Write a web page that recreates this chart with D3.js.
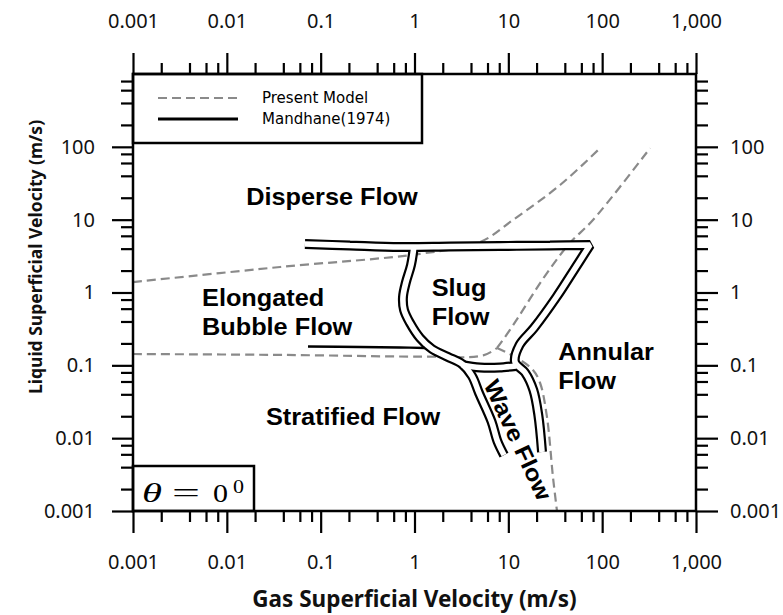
<!DOCTYPE html>
<html>
<head>
<meta charset="utf-8">
<script src="https://cdn.jsdelivr.net/npm/d3@7"></script>
<style>
  html, body { margin: 0; padding: 0; background: #fff; }
  svg { display: block; }
</style>
</head>
<body>
<svg id="chart" width="783" height="615"></svg>
<script>
// ---- axis ticks -------------------------------------------------------
const xMajor = [0.001, 0.01, 0.1, 1, 10, 100, 1000];
const xTickLabels = ["0.001", "0.01", "0.1", "1", "10", "100", "1,000"];
const yMajor = [0.001, 0.01, 0.1, 1, 10, 100];
const yTickLabels = ["0.001", "0.01", "0.1", "1", "10", "100"];
const minorSteps = [2, 4, 6, 8];
const decades = [0.001, 0.01, 0.1, 1, 10, 100];

// ---- present model transitions (gas m/s, liquid m/s) -------------------
const modelDispersed = [[0.001, 1.39], [0.037, 2.24], [1.15, 3.4], [5.0, 4.94], [11.2, 9.9], [35.6, 29.9], [95, 96]];
const modelAnnular = [[7.57, 0.173], [10.4, 0.306], [25.8, 1.85], [45.4, 4.79], [79.8, 9.9], [324, 96]];
const modelStratified = [[0.001, 0.143], [0.04, 0.139], [1.15, 0.132], [5.4, 0.137], [7.57, 0.173]];
const modelWavyAnnular = [[7.57, 0.173], [12.4, 0.126], [18.3, 0.0863], [21.8, 0.0572], [25.8, 0.0196], [29.9, 0.00293], [33.0, 0.001]];

// ---- Mandhane (1974) transitions --------------------------------------
const mandhaneDispersed = [[0.068, 4.64], [0.2055, 4.42], [0.701, 4.215], [2.39, 4.28], [8.15, 4.35], [27.8, 4.42], [74.2, 4.49]];
const mandhaneAnnular = [[74.2, 4.49], [50.1, 2.04], [32.6, 0.868], [18.78, 0.326], [13.16, 0.19], [11.78, 0.111],
                         [15.06, 0.0797], [18.46, 0.0459], [20.87, 0.0208], [22.86, 0.00646]];
const mandhaneSlugLeft = [[0.988, 4.35], [0.918, 2.386], [0.812, 1.394], [0.754, 0.868], [0.7735, 0.575], [0.896, 0.3814],
                          [1.145, 0.2374], [1.537, 0.1676], [2.276, 0.1302], [3.21, 0.1043], [4.10, 0.0714],
                          [4.87, 0.0417], [6.62, 0.01694], [7.67, 0.0090], [9.0, 0.00587]];
const mandhaneSlugWave = [[3.21, 0.1011], [4.99, 0.0934], [8.15, 0.0934], [12.07, 0.0979]];
const mandhaneBubbleStratified = [[0.0733, 0.1814], [0.2626, 0.1785], [0.701, 0.1758], [1.294, 0.173]];

// ---- region names, anchored in data coordinates ------------------------
const regionNames = [
  { lines: ["Disperse Flow"], gas: 0.132, liquid: 15.9, anchor: "middle", angle: 0 },
  { lines: ["Elongated", "Bubble Flow"], gas: 0.00544, liquid: 0.653, anchor: "start", angle: 0 },
  { lines: ["Slug", "Flow"], gas: 1.526, liquid: 0.896, anchor: "start", angle: 0 },
  { lines: ["Annular", "Flow"], gas: 34.1, liquid: 0.1184, anchor: "start", angle: 0 },
  { lines: ["Stratified Flow"], gas: 0.2212, liquid: 0.01517, anchor: "middle", angle: 0 },
  { lines: ["Wave Flow"], gas: 12.68, liquid: 0.00944, anchor: "middle", angle: 65 }
];

const legendItems = [
  { name: "Present Model", dashed: true },
  { name: "Mandhane(1974)", dashed: false }
];

// ---- layout -------------------------------------------------------------
const svg = d3.select("#chart");
const plotLeft = 133, plotRight = 696, plotTop = 74, plotBottom = 511;

const x = d3.scaleLog().domain([0.001, 1000]).range([plotLeft, plotRight]);
const y = d3.scaleLog().domain([0.001, 1000]).range([plotBottom, plotTop]);

const minorValues = decades.flatMap(d => minorSteps.map(m => d * m));

svg.append("defs").append("clipPath").attr("id", "plotClip")
  .append("rect").attr("x", plotLeft).attr("y", plotTop)
  .attr("width", plotRight - plotLeft).attr("height", plotBottom - plotTop);

const plot = svg.append("g").attr("clip-path", "url(#plotClip)");
const line = d3.line().x(d => x(d[0])).y(d => y(d[1])).curve(d3.curveCatmullRom.alpha(0.5));

// present model: grey dashed
const DASH = "9,5";
[modelDispersed, modelAnnular, modelStratified, modelWavyAnnular].forEach(data => {
  plot.append("path").datum(data).attr("d", line)
    .attr("fill", "none").attr("stroke", "#8a8a8a").attr("stroke-width", 2.2)
    .attr("stroke-dasharray", DASH);
});

// Mandhane: hollow double-stroke bands (the shared corner point gives a sharp turn)
const bands = [mandhaneDispersed.concat(mandhaneAnnular), mandhaneSlugLeft, mandhaneSlugWave];
const bandGroup = plot.append("g").attr("fill", "none").attr("stroke-linejoin", "bevel");
bands.forEach(data => {
  bandGroup.append("path").datum(data).attr("d", line)
    .attr("stroke", "#000").attr("stroke-width", 10);
});
bands.forEach(data => {
  bandGroup.append("path").datum(data).attr("d", line)
    .attr("stroke", "#fff").attr("stroke-width", 5.6);
});
plot.append("path").datum(mandhaneBubbleStratified).attr("d", line)
  .attr("fill", "none").attr("stroke", "#000").attr("stroke-width", 2.4);

// region names
regionNames.forEach(r => {
  const px = x(r.gas), py = y(r.liquid);
  const t = svg.append("text")
    .attr("font-family", "'Liberation Sans', Arial, sans-serif")
    .attr("font-weight", "bold").attr("font-size", 23)
    .attr("fill", "#000")
    .attr("text-anchor", r.anchor)
    .attr("transform", `translate(${px},${py}) rotate(${r.angle}) scale(1.1,1)`);
  r.lines.forEach((s, i) => {
    t.append("tspan").attr("x", 0).attr("y", i * 29.5)
      .attr("dy", r.angle ? "0.35em" : 0).text(s);
  });
});

// ---- axes on all four sides ---------------------------------------------
const tickFont = "'Noto Sans', 'Open Sans', sans-serif";
function styleAxis(g) {
  g.select(".domain").remove();
  g.selectAll(".tick line").attr("stroke", "#000").attr("stroke-width", 2.2);
  g.selectAll(".tick text").attr("font-family", tickFont).attr("font-size", 20).attr("fill", "#111");
}
const fmtX = d => xTickLabels[xMajor.indexOf(d)];
const fmtY = d => yTickLabels[yMajor.indexOf(d)];

svg.append("g").attr("transform", `translate(0,${plotBottom})`)
  .call(d3.axisBottom(x).tickValues(xMajor).tickSize(22).tickPadding(22).tickFormat(fmtX)).call(styleAxis);
svg.append("g").attr("transform", `translate(0,${plotBottom})`)
  .call(d3.axisBottom(x).tickValues(minorValues).tickSize(11).tickFormat("")).call(styleAxis);
svg.append("g").attr("transform", `translate(0,${plotTop})`)
  .call(d3.axisTop(x).tickValues(xMajor).tickSize(21).tickPadding(25).tickFormat(fmtX)).call(styleAxis);
svg.append("g").attr("transform", `translate(0,${plotTop})`)
  .call(d3.axisTop(x).tickValues(minorValues).tickSize(11).tickFormat("")).call(styleAxis);
svg.append("g").attr("transform", `translate(${plotLeft},0)`)
  .call(d3.axisLeft(y).tickValues(yMajor).tickSize(21).tickPadding(17).tickFormat(fmtY)).call(styleAxis);
svg.append("g").attr("transform", `translate(${plotLeft},0)`)
  .call(d3.axisLeft(y).tickValues(minorValues).tickSize(12).tickFormat("")).call(styleAxis);
svg.append("g").attr("transform", `translate(${plotRight},0)`)
  .call(d3.axisRight(y).tickValues(yMajor).tickSize(22).tickPadding(12).tickFormat(fmtY)).call(styleAxis);
svg.append("g").attr("transform", `translate(${plotRight},0)`)
  .call(d3.axisRight(y).tickValues(minorValues).tickSize(12).tickFormat("")).call(styleAxis);

// ---- legend ---------------------------------------------------------------
svg.append("rect").attr("x", plotLeft).attr("y", plotTop).attr("width", 289).attr("height", 69)
  .attr("fill", "#fff").attr("stroke", "#000").attr("stroke-width", 2.5);
legendItems.forEach((item, i) => {
  const ly = 98 + i * 21;
  svg.append("line").attr("x1", 158).attr("x2", 238).attr("y1", ly).attr("y2", ly)
    .attr("stroke", item.dashed ? "#8a8a8a" : "#000")
    .attr("stroke-width", item.dashed ? 2.2 : 3)
    .attr("stroke-dasharray", item.dashed ? DASH : null);
  svg.append("text").attr("x", 262).attr("y", ly + 5)
    .attr("font-family", "'DejaVu Sans', sans-serif").attr("font-size", 15)
    .attr("fill", "#000").text(item.name);
});

// ---- inclination note ---------------------------------------------------------
svg.append("rect").attr("x", plotLeft).attr("y", 466).attr("width", 121).attr("height", 45)
  .attr("fill", "#fff").attr("stroke", "#000").attr("stroke-width", 2.5);
const serif = "'Liberation Serif', 'DejaVu Serif', serif";
svg.append("text").attr("x", 142).attr("y", 501.5).attr("font-family", serif)
  .attr("font-style", "italic").attr("font-size", 27)
  .attr("textLength", 20).attr("lengthAdjust", "spacingAndGlyphs").text("θ");
svg.append("text").attr("x", 172).attr("y", 501.5).attr("font-family", serif)
  .attr("font-size", 27).attr("textLength", 28).attr("lengthAdjust", "spacingAndGlyphs").text("=");
svg.append("text").attr("x", 213).attr("y", 501.5).attr("font-family", serif)
  .attr("font-size", 26).attr("textLength", 15).attr("lengthAdjust", "spacingAndGlyphs").text("0");
svg.append("text").attr("x", 233).attr("y", 493).attr("font-family", serif)
  .attr("font-size", 19).attr("textLength", 11).attr("lengthAdjust", "spacingAndGlyphs").text("0");

// ---- frame --------------------------------------------------------------
svg.append("rect").attr("x", plotLeft).attr("y", plotTop)
  .attr("width", plotRight - plotLeft).attr("height", plotBottom - plotTop)
  .attr("fill", "none").attr("stroke", "#000").attr("stroke-width", 2.5);

// ---- axis titles --------------------------------------------------------
const titleFont = "'Noto Sans', 'Open Sans', sans-serif";
svg.append("text").attr("x", (plotLeft + plotRight) / 2).attr("y", 606.5)
  .attr("text-anchor", "middle").attr("font-family", titleFont)
  .attr("font-weight", "bold").attr("font-size", 22.5).attr("fill", "#111")
  .text("Gas Superficial Velocity (m/s)");
svg.append("text").attr("transform", "translate(42,257) rotate(-90)")
  .attr("text-anchor", "middle").attr("font-family", titleFont)
  .attr("font-weight", "bold").attr("font-size", 17.5).attr("fill", "#111")
  .text("Liquid Superficial Velocity (m/s)");
</script>
</body>
</html>
